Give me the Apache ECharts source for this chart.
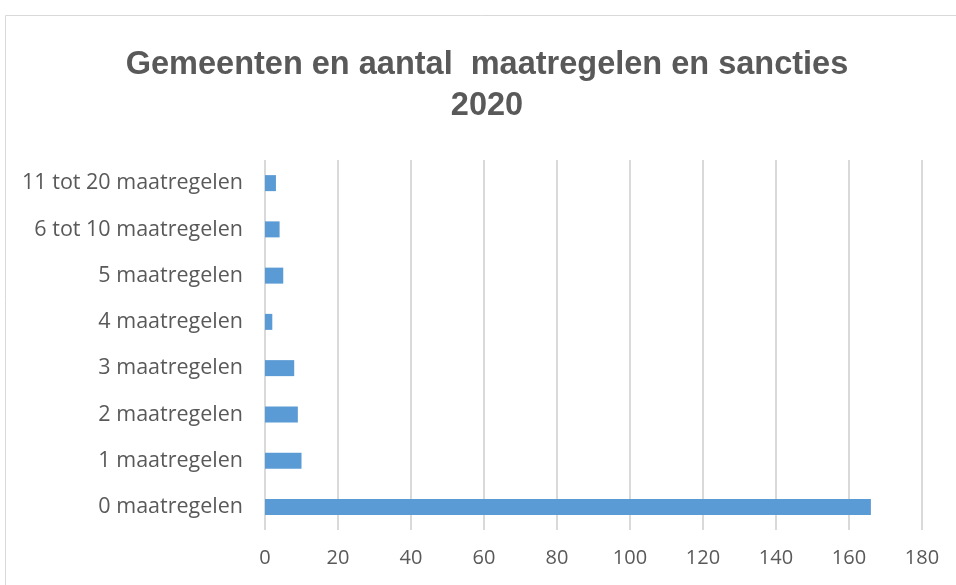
<!DOCTYPE html>
<html lang="nl">
<head>
  <meta charset="UTF-8">
  <title>Gemeenten en aantal maatregelen en sancties 2020</title>
  <script src="https://cdn.jsdelivr.net/npm/echarts@6/dist/echarts.min.js"></script>
  <style>
    html, body { margin: 0; padding: 0; background: #fff; }
    #chart { width: 956px; height: 585px; }
  </style>
</head>
<body>
  <div id="chart"></div>
  <script>
    // categorieen van onder naar boven
    var categories = ['0 maatregelen', '1 maatregelen', '2 maatregelen', '3 maatregelen',
      '4 maatregelen', '5 maatregelen', '6 tot 10 maatregelen', '11 tot 20 maatregelen']
    var values = [166, 10, 9, 8, 2, 5, 4, 3]
    var titleText = 'Gemeenten en aantal  maatregelen en sancties\n2020'

    var chart = echarts.init(document.getElementById('chart'))
    chart.setOption({
      animation: false,
      graphic: [{
        type: 'rect',
        shape: { x: 5.5, y: 15.5, width: 1000, height: 1000 },
        style: { fill: 'none', stroke: '#d9d9d9', lineWidth: 1 }
      }],
      title: {
        text: titleText,
        left: 482,
        textAlign: 'center',
        top: 40,
        textStyle: {
          fontFamily: 'Liberation Sans',
          fontWeight: 'bold',
          fontSize: 32.5,
          lineHeight: 41,
          color: '#595959'
        }
      },
      grid: { left: 265, right: 34, top: 160, bottom: 55 },
      xAxis: {
        type: 'value',
        min: 0,
        max: 180,
        interval: 20,
        axisLine: { show: false },
        axisTick: { show: false },
        splitLine: { lineStyle: { color: '#d9d9d9', width: 2 } },
        axisLabel: { color: '#595959', fontSize: 20, fontFamily: 'Open Sans', margin: 18 }
      },
      yAxis: {
        type: 'category',
        data: categories,
        axisLine: { show: false },
        axisTick: { show: false },
        axisLabel: { color: '#595959', fontSize: 21.5, fontFamily: 'Open Sans', margin: 22 }
      },
      series: [{
        type: 'bar',
        data: values,
        barWidth: 16,
        itemStyle: { color: '#5b9bd5' }
      }]
    })
  </script>
</body>
</html>
